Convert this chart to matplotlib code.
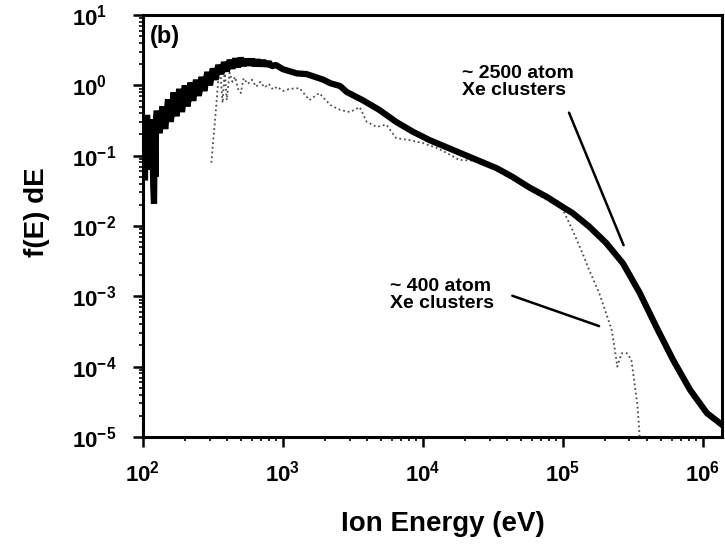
"""Ion energy distributions for ~400 and ~2500 atom Xe clusters (panel b)."""

import numpy as np
import matplotlib.pyplot as plt
from matplotlib.ticker import FixedLocator, LogLocator, NullFormatter

plt.rcParams['font.family'] = ['Liberation Sans', 'DejaVu Sans']
plt.rcParams['font.weight'] = 'bold'
plt.rcParams['mathtext.fontset'] = 'custom'
plt.rcParams['mathtext.rm'] = 'Liberation Sans:bold'
plt.rcParams['mathtext.bf'] = 'Liberation Sans:bold'
plt.rcParams['mathtext.it'] = 'Liberation Sans:bold'

# ~2500 atom clusters (thick curve), values as log10
log_E_2500 = [
    2.000, 2.005, 2.010, 2.015, 2.020, 2.025, 2.030, 2.035, 2.045, 2.055,
    2.065, 2.075, 2.080, 2.085, 2.090, 2.095,
    2.10, 2.12, 2.14, 2.16, 2.18, 2.20, 2.22, 2.24, 2.26, 2.28,
    2.30, 2.32, 2.34, 2.36, 2.38, 2.40, 2.42, 2.44, 2.46, 2.48,
    2.50, 2.52, 2.54, 2.56, 2.58, 2.60, 2.62, 2.64, 2.66, 2.68,
    2.70, 2.72, 2.74, 2.76, 2.78, 2.80, 2.82, 2.84, 2.86, 2.88,
    2.90, 2.92,
    2.95, 3.00, 3.05, 3.10, 3.17, 3.29, 3.34, 3.41, 3.457, 3.57,
    3.69, 3.81, 3.93, 4.05, 4.17, 4.29, 4.41, 4.53, 4.64, 4.76,
    4.89, 5.00, 5.07, 5.19, 5.31, 5.43, 5.55, 5.67, 5.79, 5.91,
    6.03, 6.14, 6.16,
]
log_f_2500 = [
    -0.60, -1.10, -0.45, -1.35, -0.50, -1.20, -0.42, -0.90, -0.55, -1.00,
    -0.48, -1.45, -1.68, -0.70, -1.30, -0.45,
    -0.36, -0.68, -0.30, -0.62, -0.20, -0.52, -0.10, -0.44, -0.05, -0.38,
    0.00, -0.30, 0.04, -0.22, 0.08, -0.15, 0.12, -0.08, 0.19, 0.00,
    0.24, 0.08, 0.29, 0.16, 0.33, 0.20, 0.36, 0.24, 0.38, 0.26,
    0.39, 0.28, 0.37, 0.29, 0.37, 0.28, 0.36, 0.28, 0.35, 0.28,
    0.33, 0.27,
    0.29, 0.23, 0.20, 0.17, 0.16, 0.08, 0.03, -0.01, -0.095, -0.21,
    -0.35, -0.52, -0.66, -0.78, -0.88, -0.98, -1.08, -1.18, -1.30, -1.45,
    -1.59, -1.73, -1.815, -2.01, -2.24, -2.53, -2.95, -3.44, -3.91, -4.33,
    -4.66, -4.83, -4.86,
]

# ~400 atom clusters (dotted curve)
log_E_400 = [
    2.49, 2.50, 2.52, 2.54, 2.555, 2.57, 2.585, 2.60, 2.62, 2.64,
    2.66, 2.68, 2.70, 2.72, 2.75, 2.78, 2.81, 2.84, 2.87, 2.90,
    2.93, 2.96, 3.00, 3.05, 3.12, 3.19, 3.26, 3.34, 3.41, 3.48,
    3.55, 3.60, 3.67, 3.74, 3.81, 3.91, 4.00, 4.10, 4.17, 4.26,
    4.36, 4.53, 4.76, 5.00, 5.07, 5.14, 5.19, 5.26, 5.31, 5.35,
    5.37, 5.39, 5.42, 5.46, 5.49, 5.51, 5.535, 5.55,
]
log_f_400 = [
    -1.10, -0.85, -0.40, 0.10, 0.17, -0.25, 0.20, -0.21, 0.18, 0.05,
    0.12, -0.05, -0.11, 0.10, 0.02, 0.08, -0.02, 0.05, -0.03, 0.02,
    -0.06, -0.02, -0.08, -0.05, -0.04, -0.21, -0.11, -0.28, -0.35, -0.38,
    -0.31, -0.52, -0.59, -0.56, -0.75, -0.78, -0.82, -0.89, -0.96, -1.06,
    -1.07, -1.21, -1.48, -1.76, -2.06, -2.38, -2.63, -2.95, -3.24, -3.48,
    -3.72, -4.00, -3.81, -3.81, -3.90, -4.19, -4.57, -5.00,
]

x_ticks = [1e2, 1e3, 1e4, 1e5, 1e6]
x_labels = [r'$10^{2}$', r'$10^{3}$', r'$10^{4}$', r'$10^{5}$', r'$10^{6}$']
y_ticks = [1e-5, 1e-4, 1e-3, 1e-2, 1e-1, 1e0, 1e1]
y_labels = [r'$10^{-5}$', r'$10^{-4}$', r'$10^{-3}$', r'$10^{-2}$',
            r'$10^{-1}$', r'$10^{0}$', r'$10^{1}$']

fig = plt.figure(figsize=(7.25, 5.48), dpi=100)
ax = fig.add_axes([0.197, 0.2026, 0.7986, 0.770])

ax.plot(np.power(10.0, log_E_400), np.power(10.0, log_f_400),
        color='0.3', lw=1.3, linestyle=(0, (1, 1.6)))
ax.plot(np.power(10.0, log_E_2500), np.power(10.0, log_f_2500),
        color='black', lw=4.5, solid_joinstyle='bevel')

ax.set_xscale('log')
ax.set_yscale('log')
ax.set_xlim(1e2, 1.37e6)
ax.set_ylim(1e-5, 1e1)

ax.xaxis.set_major_locator(FixedLocator(x_ticks))
ax.set_xticklabels(x_labels)
ax.yaxis.set_major_locator(FixedLocator(y_ticks))
ax.set_yticklabels(y_labels, ha='left')
ax.xaxis.set_minor_locator(LogLocator(base=10, subs=np.arange(2, 10), numticks=20))
ax.yaxis.set_minor_locator(LogLocator(base=10, subs=np.arange(2, 10), numticks=20))
ax.xaxis.set_minor_formatter(NullFormatter())
ax.yaxis.set_minor_formatter(NullFormatter())

ax.tick_params(which='major', direction='out', length=7, width=1.8,
               labelsize=16)
ax.tick_params(which='minor', direction='out', length=3, width=1.2)
ax.tick_params(axis='x', which='major', pad=10)
ax.tick_params(axis='y', which='major', pad=44)
for sp in ax.spines.values():
    sp.set_linewidth(2.2)

ax.set_xlabel('Ion Energy (eV)', fontsize=20, fontweight='bold')
ax.set_ylabel('f(E) dE', fontsize=20, fontweight='bold')
ax.xaxis.set_label_coords(0.518, -0.176)
ax.yaxis.set_label_coords(-0.160, 0.533)

ax.text(1.12e2, 7.2, '(b)', fontsize=17, fontweight='bold', va='top', ha='left')

ax.text(1.9e4, 1.95, '~ 2500 atom\nXe clusters', fontsize=14,
        fontweight='bold', va='top', ha='left', linespacing=1.0)
ax.annotate('', xy=(2.77e5, 4.9e-3), xytext=(1.09e5, 0.445),
            arrowprops=dict(arrowstyle='-', color='black', lw=1.8))

ax.text(5.8e3, 1.85e-3, '~ 400 atom\nXe clusters', fontsize=14,
        fontweight='bold', va='top', ha='left', linespacing=1.0)
ax.annotate('', xy=(1.9e5, 3.66e-4), xytext=(4.18e4, 1.05e-3),
            arrowprops=dict(arrowstyle='-', color='black', lw=1.8))

fig.savefig('out.png', dpi=100)
